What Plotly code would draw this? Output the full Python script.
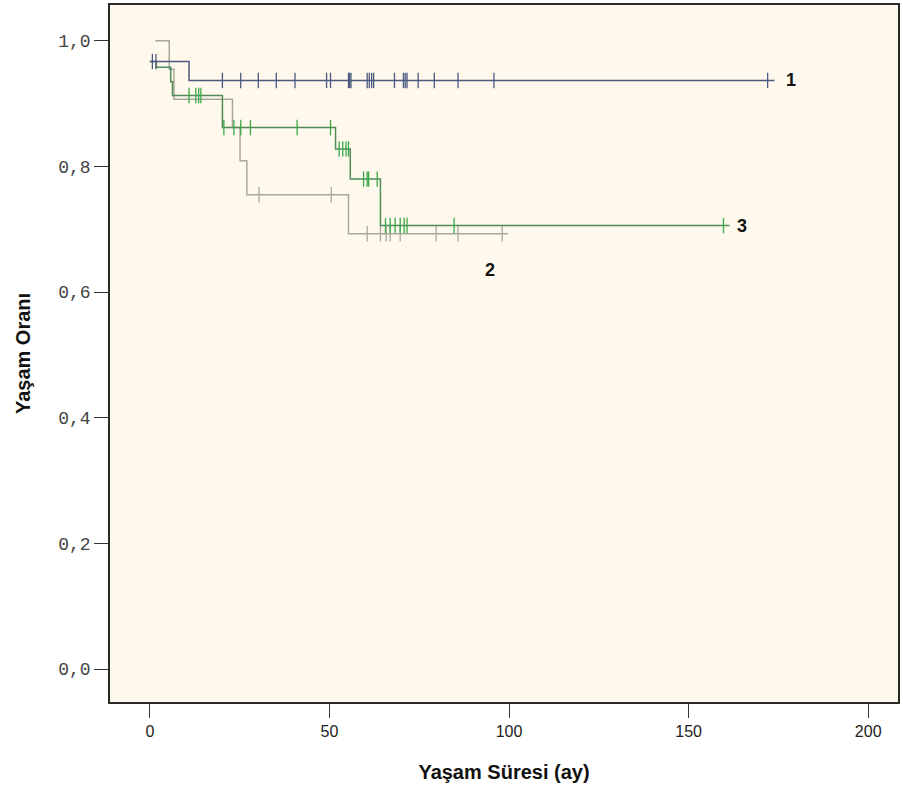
import numpy as np
import plotly.graph_objects as go

# ---- data ----
# group 1 (blue)
g1_step_t = [0.0, 10.9]
g1_step_s = [0.967, 0.937]
g1_end = 173.9
g1_cens = [0.7, 1.7, 20.2, 25.3, 30.2, 35.2, 40.4, 49.2, 50.3, 55.3, 55.6, 56.0,
           60.5, 61.1, 61.75, 62.3, 68.1, 70.6, 71.1, 71.6, 74.7, 79.2, 85.8, 95.8, 172.0]

# group 2 (grey)
g2_step_t = [1.5, 5.4, 6.7, 23.0, 25.1, 27.0, 55.3]
g2_step_s = [1.0, 0.955, 0.907, 0.862, 0.809, 0.755, 0.693]
g2_end = 99.7
g2_cens = [30.4, 50.5, 60.5, 64.2, 65.8, 66.9, 69.7, 79.7, 85.8, 98.1]

# group 3 (green)
g3_step_t = [0.0, 1.8, 5.8, 6.3, 20.2, 51.7, 55.8, 64.2]
g3_step_s = [0.967, 0.958, 0.935, 0.913, 0.862, 0.828, 0.780, 0.706]
g3_end = 161.4
g3_cens = [10.9, 12.8, 13.6, 14.2, 20.6, 23.4, 25.3, 28.0, 41.0, 50.3,
           52.7, 53.7, 54.6, 55.3, 59.5, 60.5, 60.9, 63.3,
           65.6, 66.9, 68.3, 69.7, 70.8, 71.6, 84.7, 159.7]

group_labels = ["1", "2", "3"]
x_ticks = [0, 50, 100, 150, 200]
y_ticks = [0.0, 0.2, 0.4, 0.6, 0.8, 1.0]
y_tick_text = ["0,0", "0,2", "0,4", "0,6", "0,8", "1,0"]

x_title = "Yaşam Süresi (ay)"
y_title = "Yaşam Oranı"


def step_value(t_steps, s_steps, t):
    idx = np.searchsorted(np.array(t_steps), t, side="right") - 1
    idx = np.clip(idx, 0, len(s_steps) - 1)
    return np.array(s_steps)[idx]


def curve(t_steps, s_steps, t_end):
    xs = list(t_steps) + [t_end]
    ys = list(s_steps) + [s_steps[-1]]
    return xs, ys


fig = go.Figure()

XR = [-11.1, 208.3]
YR = [-0.0524, 1.0571]

series = [
    (g2_step_t, g2_step_s, g2_end, g2_cens, "#A9A99B", "#A9A99B"),
    (g3_step_t, g3_step_s, g3_end, g3_cens, "#4F8A57", "#3AA84A"),
    (g1_step_t, g1_step_s, g1_end, g1_cens, "#4B5880", "#4B5880"),
]

for ts, ss, te, cens, lc, mc in series:
    xs, ys = curve(ts, ss, te)
    fig.add_trace(go.Scatter(x=xs, y=ys, mode="lines", line=dict(color=lc, width=1.5, shape="hv"),
                             showlegend=False, hoverinfo="skip"))
    cy = step_value(ts, ss, np.array(cens))
    fig.add_trace(go.Scatter(x=cens, y=cy, mode="markers",
                             marker=dict(symbol="line-ns", size=11, line=dict(color=mc, width=1.3)),
                             showlegend=False, hoverinfo="skip"))

# group labels
label_pos = [(178.5, 0.937), (94.7, 0.635), (165.0, 0.706)]
for lab, (lx, ly) in zip(group_labels, label_pos):
    fig.add_annotation(x=lx, y=ly, text="<b>%s</b>" % lab, showarrow=False,
                       font=dict(family="Liberation Sans, Arial", size=18, color="#111"),
                       xanchor="center", yanchor="middle")

fig.update_layout(
    width=903, height=794,
    margin=dict(l=110, r=3, t=3, b=92),
    paper_bgcolor="white", plot_bgcolor="#FEF9EC",
    showlegend=False,
    xaxis=dict(range=XR, tickvals=x_ticks, ticktext=[str(v) for v in x_ticks],
               showgrid=False, zeroline=False, showline=True, mirror=True,
               linecolor="#2a2a2a", linewidth=1.5,
               ticks="outside", ticklen=14, tickwidth=1.3, tickcolor="#333",
               tickfont=dict(family="Liberation Sans, Arial", size=16, color="#222"),
               title=dict(text="<b>%s</b>" % x_title, standoff=26,
                          font=dict(family="Liberation Sans, Arial", size=20, color="#111"))),
    yaxis=dict(range=YR, tickvals=y_ticks, ticktext=y_tick_text,
               showgrid=False, zeroline=False, showline=True, mirror=True,
               linecolor="#2a2a2a", linewidth=1.5,
               ticks="outside", ticklen=14, tickwidth=1.3, tickcolor="#333",
               tickfont=dict(family="Liberation Mono, DejaVu Sans Mono, monospace", size=18, color="#444"),
               title=dict(text="<b>%s</b>" % y_title, standoff=22,
                          font=dict(family="Liberation Sans, Arial", size=20, color="#111"))),
)

fig.write_html("out.html", config={"displayModeBar": False},
               post_script="document.body.style.margin='0';")
